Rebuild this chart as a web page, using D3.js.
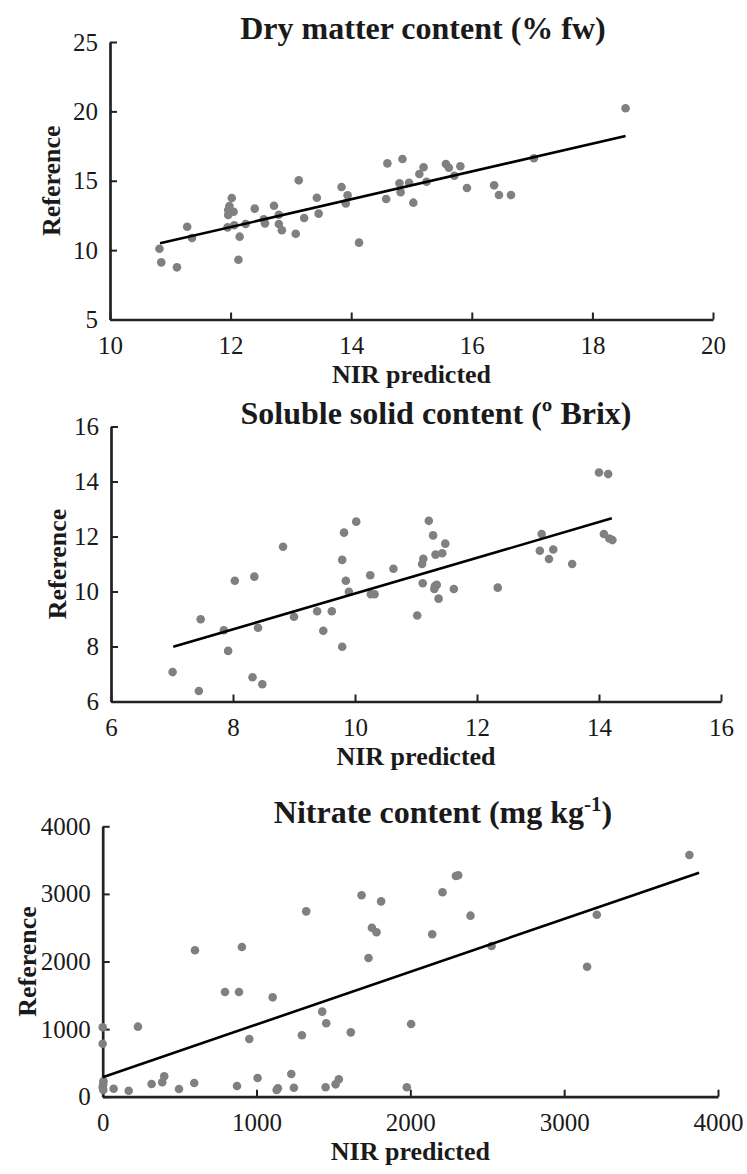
<!DOCTYPE html>
<html>
<head>
<meta charset="utf-8">
<script src="https://cdn.jsdelivr.net/npm/d3@7"></script>
<style>
  html, body { margin: 0; padding: 0; background: #fff; }
  svg text { font-family: "Liberation Serif", "Times New Roman", serif; fill: #1a1a1a; }
</style>
</head>
<body>
<svg id="chart" width="747" height="1174"></svg>
<script>
// Dry matter content (% fw)
const dryPredicted = [10.82, 10.85, 11.11, 11.28, 11.36, 12.02, 11.98, 11.96, 12.05, 11.96, 11.95, 12.06, 12.15, 12.13, 12.25, 12.40, 12.55, 12.57, 12.72, 12.80, 12.80, 12.85, 13.08, 13.13, 13.22, 13.43, 13.46, 13.84, 13.94, 13.91, 14.13, 14.58, 14.60, 14.80, 14.82, 14.85, 14.96, 15.03, 15.13, 15.20, 15.25, 15.57, 15.62, 15.71, 15.81, 15.92, 16.37, 16.45, 16.65, 17.03, 18.55];
const dryReference = [10.10, 9.12, 8.76, 11.69, 10.87, 13.76, 13.18, 12.89, 12.77, 12.53, 11.64, 11.79, 10.97, 9.31, 11.88, 12.99, 12.22, 11.93, 13.20, 12.55, 11.88, 11.43, 11.18, 15.03, 12.32, 13.78, 12.63, 14.55, 13.95, 13.37, 10.54, 13.68, 16.25, 14.82, 14.17, 16.57, 14.86, 13.42, 15.49, 15.97, 14.93, 16.21, 15.94, 15.36, 16.04, 14.48, 14.67, 13.97, 13.97, 16.62, 20.22];
const dryFitX = [10.83, 18.55];
const dryFitY = [10.49, 18.22];
const dryTicks = [10, 12, 14, 16, 18, 20];
const dryYTicks = [5, 10, 15, 20, 25];

// Soluble solid content (º Brix)
const sscPredicted = [7.01, 7.44, 7.47, 7.85, 7.92, 8.03, 8.32, 8.35, 8.41, 8.48, 8.82, 9.00, 9.38, 9.48, 9.62, 9.79, 9.79, 9.82, 9.85, 9.90, 10.02, 10.25, 10.26, 10.32, 10.63, 11.02, 11.10, 11.12, 11.11, 11.21, 11.28, 11.32, 11.43, 11.48, 11.31, 11.34, 11.30, 11.37, 11.62, 12.34, 13.03, 13.06, 13.18, 13.25, 13.56, 14.00, 14.15, 14.08, 14.17, 14.22];
const sscReference = [7.07, 6.38, 8.99, 8.59, 7.84, 10.39, 6.88, 10.54, 8.68, 6.63, 11.63, 9.08, 9.28, 8.57, 9.28, 11.15, 7.99, 12.14, 10.39, 9.99, 12.54, 10.59, 9.90, 9.90, 10.83, 9.13, 11.00, 11.19, 10.30, 12.57, 12.04, 11.34, 11.39, 11.74, 10.20, 10.24, 10.09, 9.74, 10.09, 10.14, 11.48, 12.09, 11.18, 11.53, 11.00, 14.33, 14.27, 12.09, 11.93, 11.87];
const sscFitX = [7.02, 14.21];
const sscFitY = [7.99, 12.66];
const sscTicks = [6, 8, 10, 12, 14, 16];
const sscYTicks = [6, 8, 10, 12, 14, 16];

// Nitrate content (mg kg-1)
const no3Predicted = [0, 0, 5, 3, 0, 4, 71, 169, 229, 318, 387, 400, 496, 595, 600, 795, 873, 886, 905, 953, 1007, 1105, 1131, 1139, 1226, 1243, 1295, 1323, 1427, 1449, 1453, 1514, 1535, 1613, 1683, 1728, 1750, 1780, 1810, 1977, 2005, 2142, 2209, 2296, 2311, 2391, 2528, 3149, 3212, 3814];
const no3Reference = [1027, 784, 230, 180, 140, 100, 118, 89, 1036, 188, 213, 302, 114, 203, 2166, 1549, 158, 1549, 2214, 853, 277, 1470, 99, 124, 336, 133, 908, 2742, 1258, 139, 1086, 183, 257, 952, 2979, 2052, 2500, 2432, 2890, 139, 1075, 2402, 3024, 3265, 3275, 2678, 2229, 1923, 2692, 3575];
const no3FitX = [0, 3877];
const no3FitY = [287, 3314];
const no3Ticks = [0, 1000, 2000, 3000, 4000];
const no3YTicks = [0, 1000, 2000, 3000, 4000];

const panels = [
  { title: "Dry matter content (% fw)", xs: dryPredicted, ys: dryReference, fx: dryFitX, fy: dryFitY,
    xt: dryTicks, yt: dryYTicks, left: 110, right: 713, top: 42, bottom: 319.5, titleX: 423, refX: 51 },
  { title: "Soluble solid content (\u00BA Brix)", xs: sscPredicted, ys: sscReference, fx: sscFitX, fy: sscFitY,
    xt: sscTicks, yt: sscYTicks, left: 111, right: 721, top: 426.5, bottom: 701.5, titleX: 436, refX: 57 },
  { title: "Nitrate content (mg kg", sup: "-1", tail: ")", xs: no3Predicted, ys: no3Reference, fx: no3FitX, fy: no3FitY,
    xt: no3Ticks, yt: no3YTicks, left: 102.7, right: 718, top: 826.3, bottom: 1096.7, titleX: 443, refX: 27 }
];

const svg = d3.select("#chart");

panels.forEach((p) => {
  const x = d3.scaleLinear().domain(d3.extent(p.xt)).range([p.left, p.right]);
  const y = d3.scaleLinear().domain(d3.extent(p.yt)).range([p.bottom, p.top]);
  const g = svg.append("g");

  // 축
  const xAxis = g.append("g")
    .attr("transform", `translate(0,${p.bottom})`)
    .call(d3.axisBottom(x).tickValues(p.xt).tickSizeInner(-7).tickSizeOuter(0).tickPadding(17).tickFormat(d3.format("d")));
  const yAxis = g.append("g")
    .attr("transform", `translate(${p.left},0)`)
    .call(d3.axisLeft(y).tickValues(p.yt).tickSizeInner(-7).tickSizeOuter(0).tickPadding(12).tickFormat(d3.format("d")));

  [xAxis, yAxis].forEach((a) => {
    a.select(".domain").attr("stroke", "#222").attr("stroke-width", 2.7);
    a.selectAll(".tick line").attr("stroke", "#222").attr("stroke-width", 2);
    a.selectAll(".tick text").attr("font-size", 25).attr("fill", "#1a1a1a")
      .style("font-family", "'Liberation Serif', serif");
  });

  // 점
  g.selectAll("circle")
    .data(p.xs.map((v, i) => [v, p.ys[i]]))
    .join("circle")
    .attr("cx", (d) => x(d[0]))
    .attr("cy", (d) => y(d[1]))
    .attr("r", 4.3)
    .attr("fill", "#808080");

  // 회귀선
  g.append("line")
    .attr("x1", x(p.fx[0])).attr("y1", y(p.fy[0]))
    .attr("x2", x(p.fx[1])).attr("y2", y(p.fy[1]))
    .attr("stroke", "#000").attr("stroke-width", 2.6);

  // 제목
  const t = g.append("text")
    .attr("x", p.titleX).attr("y", p.top - 3)
    .attr("text-anchor", "middle")
    .attr("font-size", 32).attr("font-weight", "bold")
    .text(p.title);
  if (p.sup) {
    t.append("tspan").attr("font-size", 21).attr("dy", -12).text(p.sup);
    t.append("tspan").attr("dy", 12).text(p.tail);
  }

  g.append("text")
    .attr("x", (p.left + p.right) / 2).attr("y", p.bottom + 63)
    .attr("text-anchor", "middle")
    .attr("font-size", 26).attr("font-weight", "bold")
    .text("NIR predicted");

  g.append("text")
    .attr("transform", `translate(${p.refX},${(p.top + p.bottom) / 2}) rotate(-90)`)
    .attr("dy", "0.35em")
    .attr("text-anchor", "middle")
    .attr("font-size", 26).attr("font-weight", "bold")
    .text("Reference");
});
</script>
</body>
</html>
